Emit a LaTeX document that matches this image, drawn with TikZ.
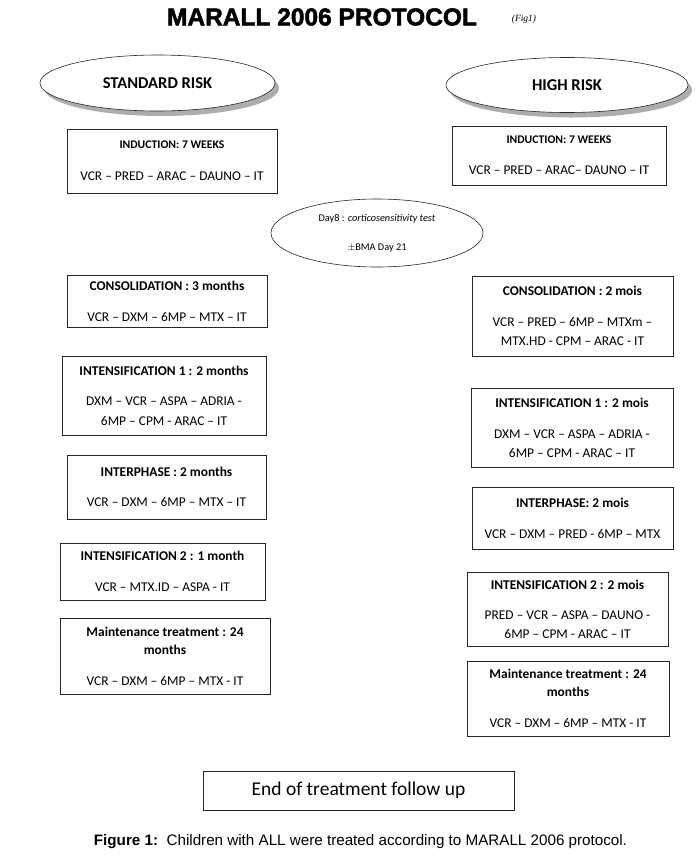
\documentclass[tikz,border=0pt]{standalone}
\usepackage{fontspec}
\setmainfont{Carlito}
\newfontfamily\titlefont[FakeBold=2]{Liberation Sans}
\newfontfamily\arialfont{Liberation Sans}
\newfontfamily\figfont{Liberation Serif}
\usetikzlibrary{shapes.geometric,shadows}
\begin{document}
\begin{tikzpicture}[x=1pt,y=-1pt,
  stepbox/.style={draw=black!85, line width=0.7pt, align=center, inner sep=0pt,
     font=\fontsize{13.4}{15}\selectfont},
  riskell/.style={draw=black!85, ellipse, line width=0.6pt, fill=white, inner sep=0pt,
     drop shadow={shadow xshift=4pt, shadow yshift=-5pt, fill=black!40, opacity=0.8},
     font=\bfseries\fontsize{16.5}{19}\selectfont},
  notell/.style={draw=black!85, ellipse, line width=0.6pt, inner sep=0pt, align=center,
     font=\fontsize{10.3}{11}\selectfont}
]
\useasboundingbox (0,0) rectangle (694,860);
\fill[white] (0,0) rectangle (694,860);

% title
\node (title) at (322,17) {\titlefont\bfseries\fontsize{24.5}{28}\selectfont MARALL 2006 PROTOCOL};
\node (fig) at (524,19) {\figfont\itshape\fontsize{9.5}{11}\selectfont (Fig1)};

% risk ellipses
\node[riskell, minimum width=235pt, minimum height=56pt] (std) at (157.5,83) {STANDARD RISK};
\node[riskell, minimum width=242pt, minimum height=55pt] (high) at (567,85) {HIGH RISK};

% induction
\node[stepbox, minimum width=210pt, minimum height=64pt] (indL) at (172,161)
  {{\bfseries\fontsize{11.7}{13}\selectfont INDUCTION: 7 WEEKS}\\[17pt] VCR -- PRED -- ARAC -- DAUNO -- IT};
\node[stepbox, minimum width=214pt, minimum height=59pt] (indR) at (559,155.5)
  {{\bfseries\fontsize{11.7}{13}\selectfont INDUCTION: 7 WEEKS}\\[16pt] VCR -- PRED -- ARAC-- DAUNO -- IT};

% day 8 note
\node[notell, minimum width=212pt, minimum height=68pt] (day8) at (377,233)
  {Day8 : \textit{corticosensitivity test}\\[18pt] $\pm$BMA Day 21};

% consolidation
\node[stepbox, minimum width=200pt, minimum height=52pt] (conL) at (167,301)
  {\textbf{CONSOLIDATION : 3 months}\\[16pt] VCR -- DXM -- 6MP -- MTX -- IT};
\node[stepbox, minimum width=201pt, minimum height=80pt] (conR) at (572.5,316)
  {\textbf{CONSOLIDATION : 2 mois}\\[16pt] VCR -- PRED -- 6MP -- MTXm --\\[4pt] MTX.HD - CPM -- ARAC - IT};

% intensification 1
\node[stepbox, minimum width=204pt, minimum height=79pt] (inaL) at (164,395.5)
  {\textbf{INTENSIFICATION 1 : 2 months}\\[15pt] DXM -- VCR -- ASPA -- ADRIA -\\[5pt] 6MP -- CPM - ARAC -- IT};
\node[stepbox, minimum width=202pt, minimum height=79pt] (inaR) at (572,427.5)
  {\textbf{INTENSIFICATION 1 : 2 mois}\\[16pt] DXM -- VCR -- ASPA -- ADRIA -\\[4pt] 6MP -- CPM - ARAC -- IT};

% interphase
\node[stepbox, minimum width=199pt, minimum height=64pt] (ipL) at (166.5,487)
  {\textbf{INTERPHASE : 2 months}\\[15pt] VCR -- DXM -- 6MP -- MTX -- IT};
\node[stepbox, minimum width=201pt, minimum height=62pt] (ipR) at (572.5,518)
  {\textbf{INTERPHASE: 2 mois}\\[16pt] VCR -- DXM -- PRED - 6MP -- MTX};

% intensification 2
\node[stepbox, minimum width=205pt, minimum height=57pt] (inbL) at (162.5,571.5)
  {\textbf{INTENSIFICATION 2 : 1 month}\\[16pt] VCR -- MTX.ID -- ASPA - IT};
\node[stepbox, minimum width=201pt, minimum height=74pt] (inbR) at (567.5,609)
  {\textbf{INTENSIFICATION 2 : 2 mois}\\[15pt] PRED -- VCR -- ASPA -- DAUNO -\\[4pt] 6MP -- CPM - ARAC -- IT};

% maintenance
\node[stepbox, minimum width=210pt, minimum height=76pt] (mtL) at (165,656)
  {\textbf{Maintenance treatment : 24}\\[3pt] \textbf{months}\\[16pt] VCR -- DXM -- 6MP -- MTX - IT};
\node[stepbox, minimum width=202pt, minimum height=75pt] (mtR) at (568,698.5)
  {\textbf{Maintenance treatment : 24}\\[3pt] \textbf{months}\\[16pt] VCR -- DXM -- 6MP -- MTX - IT};

% end
\node[draw=black!85, line width=0.7pt, minimum width=311pt, minimum height=39pt, inner sep=0pt,
  font=\fontsize{19.5}{22}\selectfont] (endb) at (358.5,790.5) {End of treatment follow up};

% caption
\node (cap) at (360.5,842) {\arialfont\fontsize{15.2}{17}\selectfont \textbf{Figure 1:}\ \ Children with ALL were treated according to MARALL 2006 protocol.};
\end{tikzpicture}
\end{document}
